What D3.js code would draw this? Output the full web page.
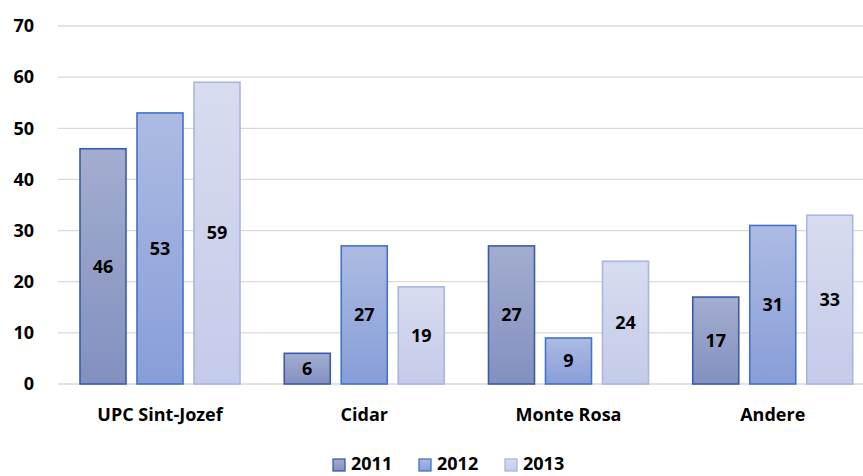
<!DOCTYPE html>
<html><head><meta charset="utf-8">
<script src="https://cdn.jsdelivr.net/npm/d3@7"></script>
<style>body{margin:0;background:#fff}svg{display:block;font-family:"Open Sans",Calibri,sans-serif}</style>
</head><body><svg id="c" width="863" height="476"></svg>
<script>
const categories = ["UPC Sint-Jozef","Cidar","Monte Rosa","Andere"];
const series = ["2011","2012","2013"];
const v2011 = [46,6,27,17];
const v2012 = [53,27,9,31];
const v2013 = [59,19,24,33];
const yTicks = [0,10,20,30,40,50,60,70];

const values = [v2011, v2012, v2013];
const fills = [["#a3adcf","#8390c0"],["#adbbe3","#889ed9"],["#d8dcef","#c4cbea"]];
const strokes = ["#3c5aa8","#4472c4","#a9b6e1"];

const svg = d3.select("#c");
const defs = svg.append("defs");
fills.forEach((f,i)=>{
  const g = defs.append("linearGradient").attr("id","g"+i).attr("x1",0).attr("y1",0).attr("x2",0).attr("y2",1);
  g.append("stop").attr("offset","0%").attr("stop-color",f[0]);
  g.append("stop").attr("offset","100%").attr("stop-color",f[1]);
});

const y = d3.scaleLinear().domain([0,70]).range([384,26]);
const x0 = d3.scaleBand().domain(categories).range([58,875]).paddingInner(0).paddingOuter(0);
const x1 = d3.scaleBand().domain(series).range([22,182]).paddingInner(0.193).paddingOuter(0);

// gridlines
svg.append("g").selectAll("line").data(yTicks).join("line")
  .attr("x1",58).attr("x2",863).attr("y1",d=>y(d)).attr("y2",d=>y(d))
  .attr("stroke","#d9d9d9").attr("stroke-width",1.3);

// y labels
svg.append("g").selectAll("text").data(yTicks).join("text")
  .attr("x",34).attr("y",d=>y(d)).attr("dy","0.35em").attr("text-anchor","end")
  .attr("font-weight","bold").attr("font-size",18).attr("fill","#000").text(d=>d);

// bars
const groups = svg.append("g").selectAll("g").data(categories).join("g")
  .attr("transform",c=>`translate(${x0(c)},0)`);
series.forEach((s,si)=>{
  groups.append("rect")
    .attr("x",x1(s)).attr("width",x1.bandwidth())
    .attr("y",(c,ci)=>y(values[si][ci])).attr("height",(c,ci)=>y(0)-y(values[si][ci]))
    .attr("fill",`url(#g${si})`).attr("stroke",strokes[si]).attr("stroke-width",1.6);
  groups.append("text")
    .attr("x",x1(s)+x1.bandwidth()/2)
    .attr("y",(c,ci)=>(y(values[si][ci])+y(0))/2).attr("dy","0.35em")
    .attr("text-anchor","middle").attr("font-weight","bold").attr("font-size",18).attr("fill","#000")
    .text((c,ci)=>values[si][ci]);
});

// category labels
svg.append("g").selectAll("text").data(categories).join("text")
  .attr("x",c=>x0(c)+x1(series[0])+(x1(series[2])+x1.bandwidth()-x1(series[0]))/2).attr("y",415).attr("dy","0.35em").attr("text-anchor","middle")
  .attr("font-weight","bold").attr("font-size",18).text(c=>c);

// legend
const legX = [333,419,505];
series.forEach((s,i)=>{
  const g = svg.append("g").attr("transform",`translate(${legX[i]},464)`);
  g.append("rect").attr("x",0).attr("y",-5).attr("width",12).attr("height",12)
    .attr("fill",`url(#g${i})`).attr("stroke",strokes[i]).attr("stroke-width",1.3);
  g.append("text").attr("x",18).attr("y",0).attr("dy","0.35em").attr("font-weight","bold").attr("font-size",18).text(s);
});
</script></body></html>
